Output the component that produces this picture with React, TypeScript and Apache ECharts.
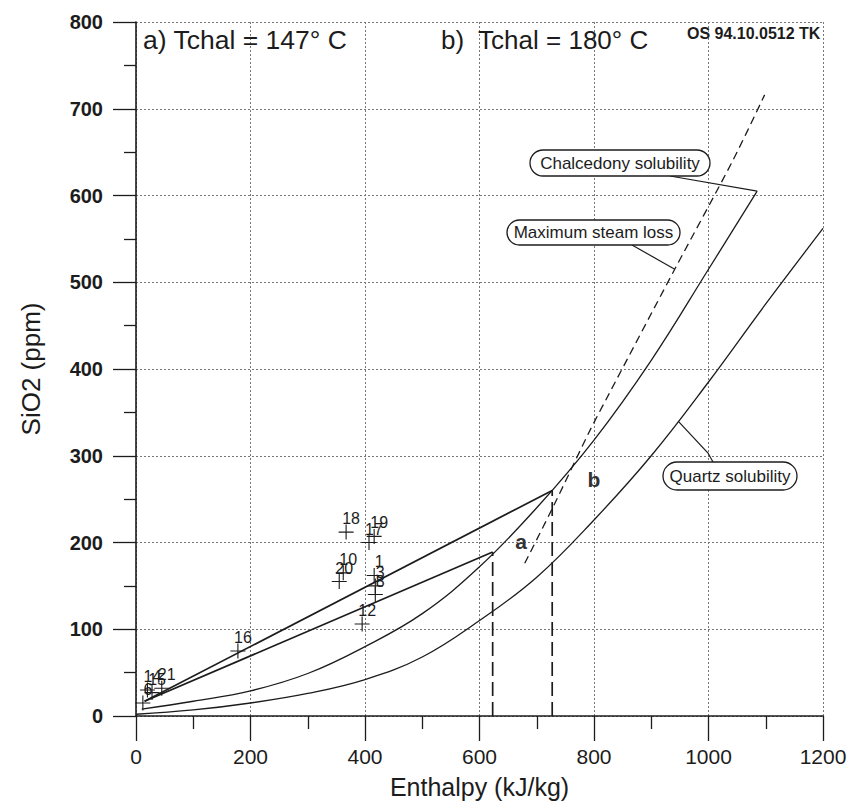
import React, { useEffect, useRef } from 'react';
import * as echarts from 'echarts';

// Quartz solubility curve (enthalpy kJ/kg, SiO2 ppm)
const quartzH = [0, 100, 200, 300, 400, 500, 600, 700, 800, 900, 1000, 1100, 1200];
const quartzS = [2, 7, 15, 26, 42, 68, 110, 160, 226, 300, 385, 475, 562];

// Chalcedony solubility curve
const chalH = [10, 100, 200, 300, 400, 500, 600, 700, 800, 900, 1000, 1085];
const chalS = [8, 17, 29, 49, 80, 118, 172, 240, 318, 410, 515, 605];

// Maximum steam loss (dashed)
const steamH = [679, 730, 792, 822, 941, 1043, 1098];
const steamS = [176, 243, 328, 366, 515, 641, 716];

// Mixing lines to a) and b)
const mixAH = [15, 623];
const mixAS = [17, 189];
const mixBH = [15, 727];
const mixBS = [17, 260];

// Vertical dashed drops
const dropAH = [623, 623];
const dropAS = [0, 189];
const dropBH = [727, 727];
const dropBS = [0, 260];

// Sample points
const pointLabels = ['18', '17', '19', '10', '20', '1', '3', '8', '12', '16', '21', '14', '15', '6'];
const pointH = [367, 407, 416, 362, 355, 416, 418, 418, 395, 178, 45, 20, 28, 12];
const pointS = [212, 200, 207, 165, 155, 162, 150, 140, 106, 75, 32, 30, 27, 15];

// Axis ticks
const xTicks = [0, 200, 400, 600, 800, 1000, 1200];
const yTicks = [0, 100, 200, 300, 400, 500, 600, 700, 800];

const zip = (a: number[], b: number[]) => a.map((v, i) => [v, b[i]]);

export default function App() {
  const ref = useRef<HTMLDivElement>(null);
  useEffect(() => {
    const chart = echarts.init(ref.current!, null, { renderer: 'svg' });
    const font = 'Liberation Sans, Arial, sans-serif';
    const ink = '#1c1c1c';
    const curve = { color: ink, width: 1.3 };
    const gridLine = { type: [2, 2], color: '#777', width: 1 };

    chart.setOption({
      animation: false,
      color: [ink],
      textStyle: { fontFamily: font, color: ink },
      grid: { left: 136, right: 27, top: 22, bottom: 93 },
      xAxis: {
        type: 'value',
        min: xTicks[0],
        max: xTicks[xTicks.length - 1],
        interval: 200,
        axisLine: { show: true, onZero: false, lineStyle: { color: ink, width: 1.6 } },
        axisTick: { show: true, length: 25, lineStyle: { color: ink, width: 1.3 } },
        minorTick: { show: true, splitNumber: 2, length: 13, lineStyle: { color: ink, width: 1.3 } },
        splitLine: { show: true, lineStyle: gridLine },
        axisLabel: { fontSize: 21, color: ink, margin: 30, fontFamily: font, formatter: (v: number) => String(v) },
        name: 'Enthalpy (kJ/kg)',
        nameLocation: 'middle',
        nameGap: 58,
        nameTextStyle: { fontSize: 25, color: ink, fontFamily: font },
      },
      yAxis: {
        type: 'value',
        min: yTicks[0],
        max: yTicks[yTicks.length - 1],
        interval: 100,
        axisLine: { show: true, onZero: false, lineStyle: { color: ink, width: 1.6 } },
        axisTick: { show: true, length: 23, lineStyle: { color: ink, width: 1.3 } },
        minorTick: { show: true, splitNumber: 2, length: 12, lineStyle: { color: ink, width: 1.3 } },
        splitLine: { show: true, lineStyle: gridLine },
        axisLabel: { fontSize: 20, fontWeight: 'bold', color: ink, margin: 33, fontFamily: font, formatter: (v: number) => String(v) },
        name: 'SiO2 (ppm)',
        nameLocation: 'middle',
        nameGap: 92,
        nameTextStyle: { fontSize: 26, color: ink, fontFamily: font },
      },
      series: [
        { name: 'Quartz solubility', type: 'line', data: zip(quartzH, quartzS), smooth: 0.4, symbol: 'none', lineStyle: curve, z: 3 },
        { name: 'Chalcedony solubility', type: 'line', data: zip(chalH, chalS), smooth: 0.4, symbol: 'none', lineStyle: curve, z: 3 },
        { name: 'Maximum steam loss', type: 'line', data: zip(steamH, steamS), smooth: 0.3, symbol: 'none', lineStyle: { color: ink, width: 1.3, type: [8, 5] }, z: 3 },
        { name: 'Mixing a', type: 'line', data: zip(mixAH, mixAS), symbol: 'none', lineStyle: { color: ink, width: 1.7 }, z: 3 },
        { name: 'Mixing b', type: 'line', data: zip(mixBH, mixBS), symbol: 'none', lineStyle: { color: ink, width: 1.7 }, z: 3 },
        { name: 'Drop a', type: 'line', data: zip(dropAH, dropAS), symbol: 'none', lineStyle: { color: ink, width: 1.7, type: [14, 6] }, z: 3 },
        { name: 'Drop b', type: 'line', data: zip(dropBH, dropBS), symbol: 'none', lineStyle: { color: ink, width: 1.7, type: [14, 6] }, z: 3 },
        {
          name: 'Samples',
          type: 'scatter',
          symbol: 'path://M0,7.4H16V8.6H0Z M7.4,0H8.6V16H7.4Z',
          symbolSize: 15,
          itemStyle: { color: ink, opacity: 1 },
          data: pointH.map((h, i) => ({ value: [h, pointS[i]], name: pointLabels[i] })),
          label: {
            show: true,
            formatter: '{b}',
            position: 'top',
            distance: 0,
            offset: [5, 2],
            fontSize: 16,
            color: '#1c1c1c',
            textBorderWidth: 0,
            fontFamily: font,
          },
          z: 4,
        },
      ],
    });

    const px = (p: number[]) => chart.convertToPixel({ gridIndex: 0 }, p) as number[];
    const chalEnd = px([chalH[chalH.length - 1], chalS[chalS.length - 1]]);
    const steamAnchor = px([steamH[4], steamS[4]]);
    const quartzAnchor = px([947, 340]);

    const callout = (text: string, x: number, y: number, w: number, h: number) => [
      { type: 'rect', z: 20, shape: { x, y, width: w, height: h, r: h / 2 }, style: { fill: '#fff', stroke: ink, lineWidth: 1.3 } },
      { type: 'text', z: 21, x: x + w / 2, y: y + h / 2, style: { text, fill: ink, font: `17px ${font}`, align: 'center', verticalAlign: 'middle' } },
    ];
    const seg = (x1: number, y1: number, x2: number, y2: number) => ({
      type: 'line', z: 19, shape: { x1, y1, x2, y2 }, style: { stroke: ink, lineWidth: 1.2 },
    });

    chart.setOption({
      graphic: [
        { type: 'text', z: 20, x: 143, y: 40, style: { text: 'a) Tchal = 147° C', fill: ink, font: `26.5px ${font}`, verticalAlign: 'middle' } },
        { type: 'text', z: 20, x: 441, y: 40, style: { text: 'b)  Tchal = 180° C', fill: ink, font: `26px ${font}`, verticalAlign: 'middle' } },
        { type: 'text', z: 20, x: 687, y: 33, style: { text: 'OS 94.10.0512 TK', fill: ink, font: `bold 16px ${font}`, verticalAlign: 'middle' } },
        { type: 'text', z: 20, x: 521, y: 541, style: { text: 'a', fill: '#333', font: `bold 21px ${font}`, align: 'center', verticalAlign: 'middle' } },
        { type: 'text', z: 20, x: 594, y: 479, style: { text: 'b', fill: '#333', font: `bold 21px ${font}`, align: 'center', verticalAlign: 'middle' } },
        seg(670, 176, chalEnd[0], chalEnd[1]),
        seg(632, 245, steamAnchor[0], steamAnchor[1]),
        { type: 'polyline', z: 19, shape: { points: [[quartzAnchor[0], quartzAnchor[1]], [708, 453], [713, 462]] }, style: { stroke: ink, lineWidth: 1.2, fill: 'none' } },
        ...callout('Chalcedony solubility', 530, 150, 180, 26),
        ...callout('Maximum steam loss', 507, 220, 173, 25),
        ...callout('Quartz solubility', 663, 462, 134, 28),
      ],
    });

    return () => chart.dispose();
  }, []);
  return <div ref={ref} style={{ position: 'absolute', left: 0, top: 0, width: 850, height: 809, background: '#fff' }} />;
}
